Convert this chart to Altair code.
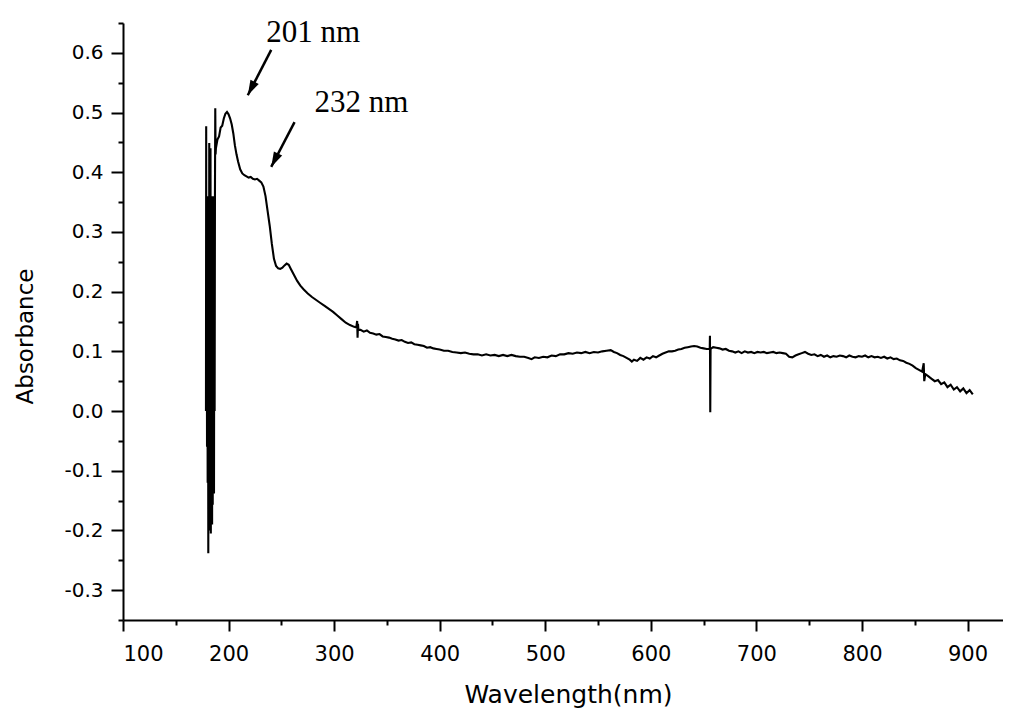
import altair as alt
import pandas as pd

# ---- spectrum data ----
WL_SPIKES = [178.6, 178.8, 179.0, 179.3, 179.6, 179.9, 180.2, 180.5, 180.8, 181.1, 181.4,
             181.7, 182.0, 182.3, 182.6, 182.9, 183.2, 183.5, 183.8, 184.1, 184.4, 184.7,
             185.0, 185.3, 185.6, 185.9, 186.2, 186.5, 186.8, 187.1, 187.4, 187.7]
ABS_SPIKES = [0.0, 0.477, 0.0, 0.36, -0.06, 0.30, -0.12, 0.36, -0.238, 0.35, -0.16,
              0.449, -0.20, 0.36, -0.12, 0.44, -0.205, 0.36, -0.15, 0.33, -0.19, 0.36,
              -0.157, 0.30, -0.10, 0.36, -0.138, 0.30, 0.0, 0.36, 0.507, 0.43]

WL_UV = [188, 189.5, 191, 192.5, 194, 195.5, 197, 198.5, 200, 201.5, 203, 204.5, 206, 207.5,
         209, 211, 213, 215, 217, 219, 221, 223, 225, 227, 229, 231, 233, 235, 237, 239, 241,
         243, 245, 247, 249, 251, 253, 255, 257, 259, 262, 265, 268, 271, 275, 279, 283, 287,
         291, 295, 299, 303, 307, 311, 315, 319, 321, 321.8, 322.2, 322.6, 323]
ABS_UV = [0.44, 0.455, 0.46, 0.475, 0.478, 0.49, 0.498, 0.501, 0.497, 0.49, 0.48, 0.465,
          0.445, 0.43, 0.418, 0.405, 0.398, 0.395, 0.393, 0.391, 0.392, 0.389, 0.388, 0.389,
          0.386, 0.383, 0.376, 0.36, 0.335, 0.31, 0.28, 0.255, 0.243, 0.239, 0.238, 0.240,
          0.244, 0.247, 0.245, 0.238, 0.228, 0.218, 0.210, 0.204, 0.197, 0.191, 0.186, 0.181,
          0.176, 0.171, 0.166, 0.160, 0.154, 0.148, 0.144, 0.141, 0.140, 0.151, 0.123, 0.146,
          0.136]

WL_VIS = [325, 328, 331, 334, 337, 340, 343, 346, 349, 352, 355, 358, 361, 364, 367, 370, 373,
          376, 379, 382, 385, 388, 391, 394, 397, 400, 404, 408, 412, 416, 420, 424, 428, 432,
          436, 440, 444, 448, 452, 456, 460, 464, 468, 472, 476, 480, 484, 487, 490, 494, 498,
          502, 506, 510, 514, 518, 522, 526, 530, 534, 538, 542, 546, 550, 554, 558, 562, 565,
          568, 571, 574, 577, 580, 582, 584, 587, 590, 593, 596, 599, 602, 605, 608, 611, 614,
          617, 620, 623, 626, 629, 632, 635, 638, 641, 644, 647, 650, 653, 655.8, 656.0, 656.3,
          656.6, 659, 662, 665, 668, 671, 674, 677, 680, 683, 686, 689, 692, 695, 698, 701,
          704, 707, 710, 713, 716, 719, 722, 725, 728, 731, 734, 737, 740, 743, 746, 749, 752,
          755, 758, 761, 764, 767, 770, 773, 776, 779, 782, 785, 788, 791, 794, 797, 800, 803,
          806, 809, 812, 815, 818, 821, 824, 827, 830, 833, 836, 839, 842, 845, 848, 851, 854,
          857, 858.5, 859, 860, 863, 866, 869, 872, 875, 878, 881, 884, 887, 890, 893, 896,
          899, 902, 905]
ABS_VIS = [0.136, 0.133, 0.135, 0.131, 0.130, 0.128, 0.129, 0.125, 0.124, 0.123, 0.121, 0.120,
           0.118, 0.119, 0.116, 0.114, 0.115, 0.112, 0.111, 0.110, 0.109, 0.106, 0.107, 0.105,
           0.104, 0.103, 0.101, 0.101, 0.099, 0.098, 0.097, 0.098, 0.096, 0.095, 0.095, 0.093,
           0.095, 0.093, 0.094, 0.092, 0.094, 0.092, 0.094, 0.092, 0.091, 0.091, 0.089, 0.087,
           0.090, 0.089, 0.091, 0.090, 0.093, 0.092, 0.095, 0.095, 0.097, 0.096, 0.098, 0.097,
           0.099, 0.097, 0.099, 0.098, 0.100, 0.101, 0.102, 0.099, 0.097, 0.094, 0.092, 0.089,
           0.086, 0.083, 0.086, 0.084, 0.089, 0.086, 0.090, 0.088, 0.092, 0.090, 0.093, 0.096,
           0.098, 0.100, 0.100, 0.101, 0.103, 0.104, 0.106, 0.107, 0.108, 0.109, 0.108, 0.106,
           0.105, 0.104, 0.104, 0.126, -0.002, 0.104, 0.107, 0.106, 0.105, 0.103, 0.104, 0.101,
           0.100, 0.098, 0.100, 0.097, 0.100, 0.098, 0.099, 0.097, 0.099, 0.098, 0.099, 0.097,
           0.098, 0.099, 0.097, 0.098, 0.097, 0.096, 0.091, 0.090, 0.093, 0.095, 0.097, 0.099,
           0.096, 0.094, 0.095, 0.092, 0.094, 0.091, 0.093, 0.090, 0.092, 0.091, 0.093, 0.092,
           0.090, 0.093, 0.091, 0.090, 0.092, 0.091, 0.093, 0.090, 0.092, 0.090, 0.091, 0.089,
           0.091, 0.088, 0.090, 0.087, 0.088, 0.085, 0.084, 0.081, 0.079, 0.076, 0.072, 0.069,
           0.066, 0.080, 0.050, 0.062, 0.058, 0.054, 0.050, 0.052, 0.045, 0.048, 0.040, 0.044,
           0.036, 0.040, 0.033, 0.038, 0.030, 0.035, 0.028]

# ---- axis ticks ----
X_TICKS = [100, 150, 200, 250, 300, 350, 400, 450, 500, 550, 600, 650, 700, 750, 800, 850, 900]
Y_TICKS = [-0.35, -0.3, -0.25, -0.2, -0.15, -0.1, -0.05, 0.0, 0.05, 0.1, 0.15, 0.2, 0.25,
           0.3, 0.35, 0.4, 0.45, 0.5, 0.55, 0.6, 0.65]

# ---- annotations ----
ANN_TEXT = ["201 nm", "232 nm"]
ANN_TEXT_X = [235.6, 281.4]
ANN_TEXT_Y = [0.618, 0.501]
ARROW_X0 = [240.4, 262.5]
ARROW_Y0 = [0.605, 0.484]
ARROW_X1 = [218.2, 240.4]
ARROW_Y1 = [0.529, 0.409]

spec = pd.DataFrame({
    "wl": WL_SPIKES + WL_UV + WL_VIS,
    "a": ABS_SPIKES + ABS_UV + ABS_VIS,
})
ann = pd.DataFrame({"label": ANN_TEXT, "wl": ANN_TEXT_X, "a": ANN_TEXT_Y})
arrows = pd.DataFrame({"wl": ARROW_X0, "a": ARROW_Y0, "wl2": ARROW_X1, "a2": ARROW_Y1})
heads = pd.DataFrame({"wl": ARROW_X1, "a": ARROW_Y1})

SANS = "DejaVu Sans"
SERIF = "Liberation Serif"

xscale = alt.Scale(domain=[100, 933.6], nice=False, zero=False)
yscale = alt.Scale(domain=[-0.35, 0.65], nice=False, zero=False)

xaxis = alt.Axis(
    values=X_TICKS,
    labelExpr="datum.value % 100 === 0 ? datum.label : ''",
    format="d",
    tickSize={"condition": {"test": "datum.value % 100 === 0", "value": 11}, "value": 5},
    labelPadding=12,
    labelFont=SANS, labelFontSize=21, labelColor="black",
    title="Wavelength(nm)", titleFont=SANS, titleFontSize=25, titleFontWeight="normal",
    titleColor="black", titleX=445, titleY=82, titleAlign="center",
    titleBaseline="alphabetic",
    grid=False, domainColor="black", domainWidth=2, tickColor="black", tickWidth=2,
)
yaxis = alt.Axis(
    values=Y_TICKS,
    labelExpr="abs(datum.value*10 - round(datum.value*10)) < 0.001 ? replace(datum.label, '\u2212', '-') : ''",
    format=".1f",
    tickSize={"condition": {"test": "abs(datum.value*10 - round(datum.value*10)) < 0.001", "value": 12}, "value": 5},
    labelPadding=8,
    labelFont=SANS, labelFontSize=20, labelColor="black",
    title="Absorbance", titleFont=SANS, titleFontSize=23, titleFontWeight="normal",
    titleColor="black", titleX=-98, titleY=313, titleAlign="center", titleBaseline="middle",
    titleAngle=270,
    grid=False, domainColor="black", domainWidth=2, tickColor="black", tickWidth=2,
)

X = alt.X("wl:Q", scale=xscale, axis=xaxis)
Y = alt.Y("a:Q", scale=yscale, axis=yaxis)

line = alt.Chart(spec).mark_line(color="black", strokeWidth=2.1, strokeJoin="miter").encode(x=X, y=Y)

shafts = alt.Chart(arrows).mark_rule(color="black", strokeWidth=2.5).encode(
    x=X, y=Y, x2="wl2:Q", y2="a2:Q")

tips = alt.Chart(heads).mark_point(
    shape="M0,0L0.62,2L-0.62,2Z", filled=True, color="black", size=225,
    angle=207, opacity=1, strokeWidth=0).encode(x=X, y=Y)

labels = alt.Chart(ann).mark_text(
    font=SERIF, fontSize=31, align="left", baseline="alphabetic", color="black").encode(
    x=X, y=Y, text="label:N")

chart = alt.layer(line, shafts, tips, labels).properties(
    width=880, height=597,
    autosize=alt.AutoSizeParams(type="none"),
    padding={"left": 115, "top": 15, "right": 0, "bottom": 90},
    background="white",
).configure_view(stroke=None)

chart.save("out.html", embed_options={"renderer": "svg", "actions": False})
